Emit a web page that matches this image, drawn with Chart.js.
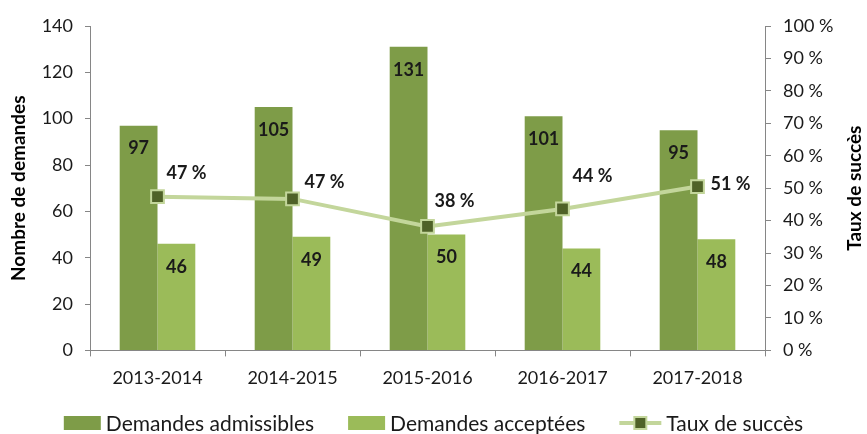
<!DOCTYPE html>
<html>
<head>
<meta charset="utf-8">
<script src="https://cdn.jsdelivr.net/npm/chart.js@4"></script>
<style>
  html, body { margin: 0; padding: 0; background: #fff; }
  #wrap { width: 867px; height: 434px; position: relative; }
</style>
</head>
<body>
<div id="wrap"><canvas id="chart"></canvas></div>
<script>
// Chart data
const periods = ['2013-2014', '2014-2015', '2015-2016', '2016-2017', '2017-2018'];
const admissibles = [97, 105, 131, 101, 95];
const acceptees = [46, 49, 50, 44, 48];
const tauxSucces = [47.4, 46.7, 38.2, 43.6, 50.5];

const DARK = '#7E9C48';
const LIGHT = '#9BBB59';
const LINE = '#C3D69B';
const MARK = '#4F6228';
const AXIS = '#868686';
const TEXT = '#1a1a1a';
const FONT = 'Lato, "Open Sans", sans-serif';

// label offsets for the rate points (last one sits to the right)
const rateLabelOffsets = [[29, -23], [32, -17], [27, -25], [30, -33], [33, -2]];

/**
 * Draw one legend symbol at (x, y) = left / vertical centre
 */
function drawSymbol(ctx, kind, x, y) {
    if (kind === 'line') {
        ctx.strokeStyle = LINE;
        ctx.lineWidth = 4;
        ctx.beginPath();
        ctx.moveTo(x, y);
        ctx.lineTo(x + 42, y);
        ctx.stroke();
        ctx.fillStyle = LINE;
        ctx.fillRect(x + 14, y - 7, 14, 14);
        ctx.fillStyle = MARK;
        ctx.fillRect(x + 16, y - 5, 10, 10);
        return 42;
    }
    ctx.fillStyle = kind;
    ctx.fillRect(x, y - 7, 37, 14);
    return 37;
}

// Value labels, right axis title and bottom legend
const decorations = {
    id: 'decorations',
    afterDatasetsDraw(chart) {
        const ctx = chart.ctx;
        ctx.save();
        ctx.font = 'bold 18px ' + FONT;
        ctx.fillStyle = TEXT;
        ctx.textAlign = 'center';
        ctx.textBaseline = 'middle';
        chart.data.datasets.forEach((ds, i) => {
            const meta = chart.getDatasetMeta(i);
            meta.data.forEach((el, j) => {
                const v = ds.data[j];
                if (ds.type === 'line') {
                    const off = rateLabelOffsets[j];
                    ctx.fillText(Math.round(v) + ' %', el.x + off[0], el.y + off[1]);
                } else {
                    ctx.fillText(String(v), el.x, el.y + 23);
                }
            });
        });
        ctx.restore();

        // right axis title, reading bottom to top like the left one
        const area = chart.chartArea;
        ctx.save();
        ctx.translate(855, (area.top + area.bottom) / 2);
        ctx.rotate(-Math.PI / 2);
        ctx.font = 'bold 19px ' + FONT;
        ctx.fillStyle = '#000';
        ctx.textAlign = 'center';
        ctx.textBaseline = 'middle';
        ctx.fillText('Taux de succès', 0, 0);
        ctx.restore();

        // legend, centred under the chart
        ctx.save();
        ctx.font = '21px ' + FONT;
        ctx.textBaseline = 'middle';
        ctx.textAlign = 'left';
        const items = [
            { kind: DARK, text: chart.data.datasets[1].label },
            { kind: LIGHT, text: chart.data.datasets[2].label },
            { kind: 'line', text: chart.data.datasets[0].label }
        ];
        const symW = it => (it.kind === 'line' ? 42 : 37);
        const gapText = 5, gapItem = 34;
        let total = 0;
        items.forEach((it, k) => {
            total += symW(it) + gapText + ctx.measureText(it.text).width;
            if (k < items.length - 1) total += gapItem;
        });
        let x = (chart.width - total) / 2;
        const y = 423;
        items.forEach(it => {
            x += drawSymbol(ctx, it.kind, x, y) + gapText;
            ctx.fillStyle = TEXT;
            ctx.fillText(it.text, x, y + 1);
            x += ctx.measureText(it.text).width + gapItem;
        });
        ctx.restore();
    }
};

new Chart(document.getElementById('chart'), {
    data: {
        labels: periods,
        datasets: [
            {
                type: 'line',
                label: 'Taux de succès',
                data: tauxSucces,
                yAxisID: 'y1',
                borderColor: LINE,
                borderWidth: 4,
                pointStyle: 'rect',
                pointRadius: 9,
                pointHoverRadius: 9,
                pointBackgroundColor: MARK,
                pointBorderColor: LINE,
                pointBorderWidth: 2,
                order: 0
            },
            {
                type: 'bar',
                label: 'Demandes admissibles',
                data: admissibles,
                backgroundColor: DARK,
                yAxisID: 'y',
                barPercentage: 1,
                categoryPercentage: 0.56,
                order: 1
            },
            {
                type: 'bar',
                label: 'Demandes acceptées',
                data: acceptees,
                backgroundColor: LIGHT,
                yAxisID: 'y',
                barPercentage: 1,
                categoryPercentage: 0.56,
                order: 2
            }
        ]
    },
    options: {
        responsive: true,
        maintainAspectRatio: false,
        animation: false,
        layout: { padding: { left: 0, right: 0, top: 26, bottom: 34 } },
        plugins: {
            tooltip: { enabled: false },
            legend: { display: false }
        },
        scales: {
            x: {
                grid: {
                    display: true,
                    offset: true,
                    drawOnChartArea: false,
                    tickLength: 6,
                    color: AXIS
                },
                border: { color: AXIS, width: 1 },
                ticks: { color: TEXT, font: { family: FONT, size: 18 }, padding: 11 }
            },
            y: {
                position: 'left',
                min: 0,
                max: 140,
                afterFit: scale => { scale.width = 90; },
                ticks: { stepSize: 20, color: TEXT, font: { family: FONT, size: 18 }, padding: 12 },
                grid: { display: true, drawOnChartArea: false, tickLength: 5, color: AXIS },
                border: { color: AXIS, width: 1 },
                title: {
                    display: true,
                    text: 'Nombre de demandes',
                    color: '#000',
                    font: { family: FONT, size: 19, weight: 'bold' },
                    padding: { top: 7, bottom: 0 }
                }
            },
            y1: {
                position: 'right',
                min: 0,
                max: 100,
                afterFit: scale => { scale.width = 102; },
                ticks: {
                    stepSize: 10,
                    color: TEXT,
                    font: { family: FONT, size: 18 },
                    padding: 12,
                    callback: v => v + ' %'
                },
                grid: { display: true, drawOnChartArea: false, tickLength: 6, color: AXIS },
                border: { color: AXIS, width: 1 },
                title: { display: false }
            }
        }
    },
    plugins: [decorations]
});
</script>
</body>
</html>
